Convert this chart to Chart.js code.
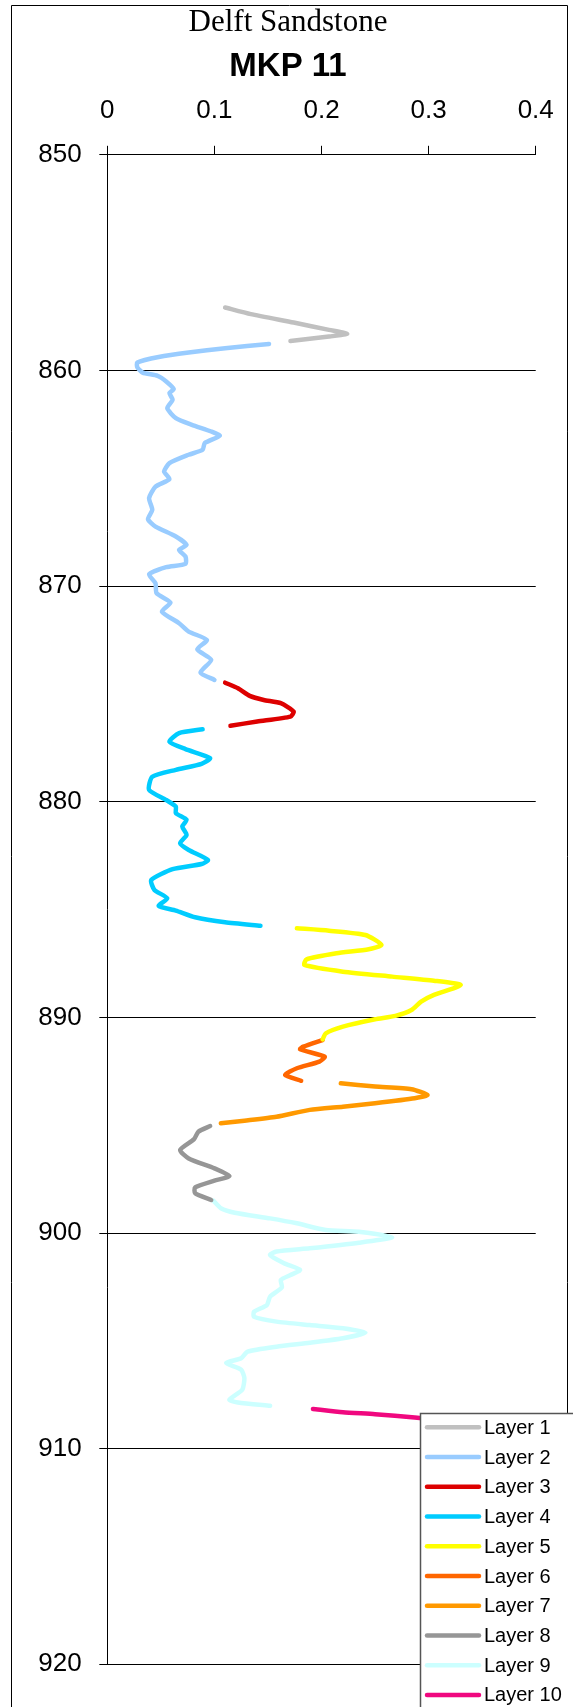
<!DOCTYPE html>
<html>
<head>
<meta charset="utf-8">
<script src="https://cdn.jsdelivr.net/npm/chart.js@4/dist/chart.umd.min.js"></script>
<style>
  html, body { margin: 0; padding: 0; background: #fff; }
  canvas { display: block; }
</style>
</head>
<body>
<canvas id="wellChart" width="573" height="1707"></canvas>
<script>
/*global Chart*/

//----------------------------------------------------------------
/* Data: [value, depth] pairs per layer */
//----------------------------------------------------------------
var layerNames = ["Layer 1", "Layer 2", "Layer 3", "Layer 4", "Layer 5",
                  "Layer 6", "Layer 7", "Layer 8", "Layer 9", "Layer 10"];
var layerColors = ["#c0c0c0", "#99ccff", "#dd0000", "#00ccff", "#ffff00",
                   "#ff6600", "#ff9900", "#969696", "#ccffff", "#f0087f"];

var xTicks = [0, 0.1, 0.2, 0.3, 0.4];
var depthTicks = [850, 860, 870, 880, 890, 900, 910, 920];

var layer1 = [[0.110, 857.08], [0.134, 857.39], [0.174, 857.78], [0.207, 858.12],
              [0.224, 858.30], [0.207, 858.43], [0.171, 858.63]];

var layer2 = [[0.151, 858.77], [0.110, 858.97], [0.076, 859.17], [0.048, 859.38],
              [0.028, 859.63], [0.028, 859.85], [0.033, 860.10], [0.047, 860.25],
              [0.055, 860.51], [0.062, 860.87], [0.058, 861.05], [0.061, 861.36],
              [0.056, 861.75], [0.064, 862.21], [0.079, 862.52], [0.097, 862.83],
              [0.105, 863.03], [0.091, 863.37], [0.089, 863.68], [0.076, 863.91],
              [0.058, 864.30], [0.053, 864.69], [0.058, 865.04], [0.045, 865.39],
              [0.039, 865.92], [0.042, 866.47], [0.038, 866.90], [0.045, 867.24],
              [0.064, 867.70], [0.074, 868.09], [0.067, 868.32], [0.073, 868.63],
              [0.073, 868.97], [0.055, 869.12], [0.039, 869.45], [0.045, 869.87],
              [0.046, 870.33], [0.059, 870.77], [0.051, 871.18], [0.067, 871.72],
              [0.076, 872.11], [0.093, 872.50], [0.084, 872.93], [0.097, 873.42],
              [0.087, 874.01], [0.100, 874.35]];

var layer3 = [[0.110, 874.48], [0.122, 874.74], [0.133, 875.09], [0.146, 875.28],
              [0.162, 875.43], [0.174, 875.82], [0.171, 876.05], [0.140, 876.28],
              [0.115, 876.48]];

var layer4 = [[0.089, 876.64], [0.067, 876.82], [0.058, 877.21], [0.073, 877.56],
              [0.096, 877.98], [0.088, 878.24], [0.064, 878.52], [0.042, 878.84],
              [0.039, 879.45], [0.055, 879.92], [0.064, 880.23], [0.064, 880.53],
              [0.074, 880.84], [0.070, 881.15], [0.074, 881.54], [0.068, 881.92],
              [0.076, 882.24], [0.094, 882.70], [0.088, 882.89], [0.061, 883.13],
              [0.041, 883.63], [0.044, 884.09], [0.056, 884.48], [0.048, 884.83],
              [0.064, 885.05], [0.082, 885.36], [0.110, 885.59], [0.143, 885.75]];

var layer5 = [[0.177, 885.87], [0.207, 885.98], [0.241, 886.18], [0.256, 886.64],
              [0.244, 886.84], [0.214, 887.03], [0.186, 887.31], [0.184, 887.57],
              [0.220, 887.88], [0.266, 888.11], [0.305, 888.30], [0.330, 888.50],
              [0.305, 888.96], [0.293, 889.27], [0.284, 889.66], [0.269, 889.93],
              [0.250, 890.09], [0.220, 890.43], [0.204, 890.74], [0.201, 891.02]];

var layer6 = [[0.201, 891.05], [0.183, 891.36], [0.180, 891.48], [0.203, 891.82],
              [0.198, 892.05], [0.177, 892.36], [0.166, 892.67], [0.181, 892.94]];

var layer7 = [[0.218, 893.06], [0.250, 893.21], [0.284, 893.33], [0.299, 893.60],
              [0.287, 893.75], [0.250, 893.98], [0.220, 894.14], [0.189, 894.29],
              [0.158, 894.61], [0.128, 894.79], [0.106, 894.91]];

var layer8 = [[0.096, 895.04], [0.085, 895.30], [0.081, 895.65], [0.068, 896.15],
              [0.076, 896.54], [0.100, 897.00], [0.114, 897.36], [0.100, 897.57],
              [0.082, 897.88], [0.082, 898.16], [0.097, 898.47]];

var layer9 = [[0.099, 898.50], [0.106, 898.85], [0.119, 899.06], [0.152, 899.32],
              [0.177, 899.55], [0.204, 899.86], [0.235, 899.94], [0.266, 900.20],
              [0.235, 900.45], [0.189, 900.71], [0.158, 900.86], [0.152, 901.02],
              [0.165, 901.40], [0.180, 901.71], [0.171, 901.95], [0.162, 902.18],
              [0.163, 902.52], [0.152, 902.95], [0.149, 903.34], [0.137, 903.65],
              [0.137, 903.88], [0.158, 904.11], [0.189, 904.27], [0.220, 904.42],
              [0.241, 904.62], [0.220, 904.88], [0.189, 905.09], [0.158, 905.27],
              [0.131, 905.50], [0.125, 905.81], [0.111, 906.03], [0.125, 906.34],
              [0.128, 906.73], [0.126, 907.27], [0.114, 907.73], [0.122, 907.86],
              [0.152, 908.01]];

var layer10 = [[0.192, 908.16], [0.220, 908.31], [0.250, 908.40], [0.287, 908.56],
               [0.310, 908.66]];

var layers = [layer1, layer2, layer3, layer4, layer5,
              layer6, layer7, layer8, layer9, layer10];

//----------------------------------------------------------------
/* Fonts */
//----------------------------------------------------------------
var sansFont = "'Liberation Sans', Arial, Helvetica, sans-serif";
var serifFont = "'Liberation Serif', 'Times New Roman', serif";
Chart.defaults.font.family = sansFont;
Chart.defaults.color = "#000";

//----------------------------------------------------------------
/* Outer frame and boxed legend inside the plot */
//----------------------------------------------------------------
var framePlugin = {
    id: "frame",
    beforeDraw: function (chart) {
        var ctx = chart.ctx;
        ctx.save();
        ctx.strokeStyle = "#000";
        ctx.lineWidth = 1;
        ctx.beginPath();
        ctx.moveTo(11.5, chart.height + 5);
        ctx.lineTo(11.5, 5.5);
        ctx.lineTo(567.5, 5.5);
        ctx.lineTo(567.5, chart.height + 5);
        ctx.stroke();
        ctx.restore();
    }
};

var boxLegendPlugin = {
    id: "boxLegend",
    afterDraw: function (chart) {
        var ctx = chart.ctx;
        var left = 420.5, top = 1413.5, rowH = 29.74, firstRow = 1427.3;
        ctx.save();
        ctx.fillStyle = "#fff";
        ctx.fillRect(left, top, chart.width - left + 10, chart.height - top + 10);
        ctx.strokeStyle = "#555";
        ctx.lineWidth = 1.5;
        ctx.strokeRect(left, top, chart.width - left + 10, chart.height - top + 10);
        ctx.font = "20px " + sansFont;
        ctx.textBaseline = "middle";
        ctx.textAlign = "left";
        chart.data.datasets.forEach(function (ds, i) {
            var y = firstRow + i * rowH;
            ctx.strokeStyle = ds.borderColor;
            ctx.lineWidth = 4.5;
            ctx.lineCap = "round";
            ctx.beginPath();
            ctx.moveTo(427, y);
            ctx.lineTo(479, y);
            ctx.stroke();
            ctx.fillStyle = "#000";
            ctx.fillText(ds.label, 484, y + 1);
        });
        ctx.restore();
    }
};

//----------------------------------------------------------------
/* Chart */
//----------------------------------------------------------------
var datasets = layers.map(function (pts, i) {
    return {
        label: layerNames[i],
        data: pts.map(function (p) { return {x: p[0], y: p[1]}; }),
        borderColor: layerColors[i],
        backgroundColor: layerColors[i],
        borderWidth: 4.5,
        borderCapStyle: "round",
        borderJoinStyle: "round",
        showLine: true,
        pointRadius: 0,
        pointHoverRadius: 0,
        tension: 0.2,
        fill: false
    };
});

var ctx = document.getElementById("wellChart").getContext("2d");
new Chart(ctx, {
    type: "scatter",
    data: {datasets: datasets},
    plugins: [framePlugin, boxLegendPlugin],
    options: {
        responsive: false,
        animation: false,
        devicePixelRatio: 1,
        layout: {padding: {left: 32.7, right: 29.7, top: 0, bottom: 42.7}},
        plugins: {
            legend: {display: false},
            tooltip: {enabled: false},
            title: {
                display: true,
                text: "Delft Sandstone",
                color: "#000",
                font: {family: serifFont, size: 31, weight: "normal", lineHeight: 1.2},
                padding: {top: 4.4, bottom: 0}
            },
            subtitle: {
                display: true,
                text: "MKP 11",
                color: "#000",
                font: {family: sansFont, size: 33, weight: "bold", lineHeight: 1.2},
                padding: {top: 5.8, bottom: 0}
            }
        },
        scales: {
            x: {
                type: "linear",
                position: "top",
                min: xTicks[0],
                max: xTicks[xTicks.length - 1],
                afterBuildTicks: function (scale) {
                    scale.ticks = xTicks.map(function (v) { return {value: v}; });
                },
                afterFit: function (scale) { scale.height = 67.8; },
                ticks: {
                    font: {size: 26},
                    color: "#000",
                    padding: 19.2,
                    maxRotation: 0,
                    autoSkip: false
                },
                grid: {
                    drawOnChartArea: false,
                    drawTicks: true,
                    tickLength: 9,
                    color: "#000",
                    lineWidth: 1
                },
                border: {display: true, color: "#000", width: 1}
            },
            y: {
                type: "linear",
                reverse: true,
                min: depthTicks[0],
                max: depthTicks[depthTicks.length - 1],
                afterBuildTicks: function (scale) {
                    scale.ticks = depthTicks.map(function (v) { return {value: v}; });
                },
                afterFit: function (scale) { scale.width = 74.6; },
                ticks: {
                    font: {size: 26},
                    color: "#000",
                    padding: 17.6,
                    autoSkip: false
                },
                grid: {
                    drawOnChartArea: true,
                    drawTicks: true,
                    tickLength: 8,
                    color: "#000",
                    lineWidth: 1
                },
                border: {display: true, color: "#000", width: 1}
            }
        }
    }
});
</script>
</body>
</html>
